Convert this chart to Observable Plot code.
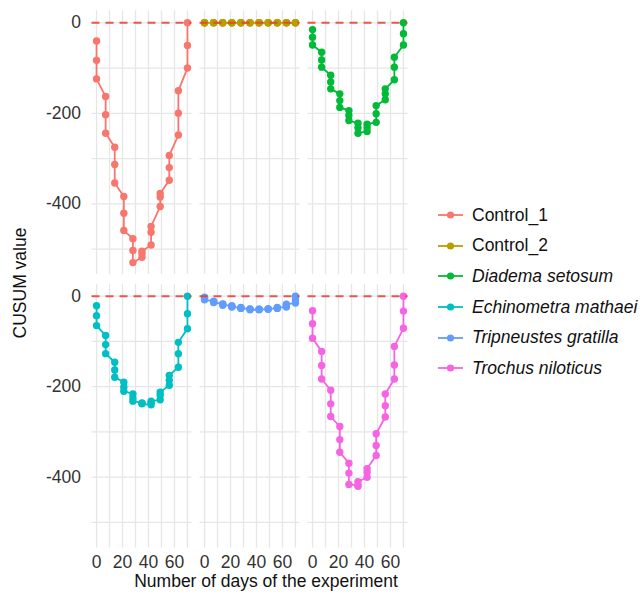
<!DOCTYPE html>
<html><head><meta charset="utf-8">
<script src="https://cdn.jsdelivr.net/npm/d3@7"></script>
<script src="https://cdn.jsdelivr.net/npm/@observablehq/plot@0.6"></script>
<style>
body{margin:0;background:#fff;font-family:"Liberation Sans",Arial,Helvetica,sans-serif;}
#wrap{position:relative;width:644px;height:595px;overflow:hidden;background:#fff;}
#chart{position:absolute;left:0;top:0;}
.ytitle{position:absolute;left:20px;top:283px;transform:translate(-50%,-50%) rotate(-90deg);font-size:17.5px;white-space:nowrap;color:#111;}
.xtitle{position:absolute;left:266px;top:581px;transform:translate(-50%,-50%);font-size:17.5px;white-space:nowrap;color:#111;}
#legend{position:absolute;left:436px;top:200px;}
.item{display:flex;align-items:center;height:30.6px;font-size:17.5px;color:#111;white-space:nowrap;}
.item svg{margin-right:7px;}
.it{font-style:italic;}
</style>
</head><body>
<div id="wrap">
  <div id="chart"></div>
  <div class="ytitle">CUSUM value</div>
  <div class="xtitle">Number of days of the experiment</div>
  <div id="legend"></div>
</div>
<script>
// ---- data ----
const seriesNames = ["Control_1","Control_2","Diadema setosum","Echinometra mathaei","Tripneustes gratilla","Trochus niloticus"];
const seriesItalic = [false,false,true,true,true,true];
const seriesColors = ["#F8766D","#B79F00","#00BA38","#00BFC4","#619CFF","#F564E3"];
const panelCols = [0,1,2,0,1,2];
const panelRows = [0,0,0,1,1,1];

const sampleDays = [0,0,0, 7,7,7, 14,14,14, 21,21,21, 28,28,28, 35,35,35, 42,42,42, 49,49,49, 56,56,56, 63,63,63, 70,70,70];

const control1 = [-40,-83,-124, -163,-203,-244, -275,-313,-354, -384,-421,-459, -477,-503,-530, -518,-511,-505, -491,-463,-450, -406,-385,-377, -348,-320,-293, -248,-200,-150, -100,-50,0];
const control2 = [0,0,0, 0,0,0, 0,0,0, 0,0,0, 0,0,0, 0,0,0, 0,0,0, 0,0,0, 0,0,0, 0,0,0, 0,0,0];
const diadema = [-15,-32,-49, -65,-82,-98, -116,-131,-146, -157,-172,-187, -194,-205,-216, -222,-232,-244, -240,-232,-224, -220,-201,-183, -170,-157,-146, -126,-98,-76, -49,-24,0];
const echinometra = [-21,-43,-65, -87,-107,-127, -146,-163,-179, -190,-201,-210, -216,-225,-232, -236,-237,-238, -240,-236,-232, -229,-219,-212, -197,-186,-175, -157,-127,-102, -72,-39,0];
const tripneustes = [-2,-5,-8, -11,-13,-14, -17,-18,-20, -21,-23,-24, -25,-26,-27, -28,-29,-30, -30,-29,-29, -29,-28,-28, -27,-26,-25, -24,-21,-18, -15,-8,0];
const trochus = [-32,-61,-93, -122,-153,-183, -208,-238,-266, -288,-317,-345, -369,-391,-416, -418,-420,-410, -400,-389,-381, -352,-330,-304, -267,-242,-216, -183,-152,-111, -71,-33,0];

const seriesValues = [control1, control2, diadema, echinometra, tripneustes, trochus];

const xTicks = [0,20,40,60];
const xGrid = [0,10,20,30,40,50,60,70];
const yTicks = [0,-200,-400];
const yGrid = [0,-100,-200,-300,-400,-500];

// ---- build table ----
const rows = [];
seriesNames.forEach((name, s) => {
  seriesValues[s].forEach((v, i) => {
    rows.push({series: name, day: sampleDays[i], value: v, col: panelCols[s], row: panelRows[s]});
  });
});
const panels = seriesNames.map((name, s) => ({series: name, col: panelCols[s], row: panelRows[s]}));

const gridStyle = {stroke: "#e6e6e6", strokeOpacity: 1, strokeWidth: 1.3};

const chart = Plot.plot({
  width: 644, height: 595,
  marginLeft: 91.5, marginRight: 236.5, marginTop: 10.3, marginBottom: 47.5,
  style: {fontFamily: "'Liberation Sans', Arial, sans-serif", fontSize: "17.5px", background: "white", color: "#333", overflow: "visible"},
  x: {domain: [-3.5, 73.5]},
  y: {domain: [-556.5, 26.5]},
  fx: {domain: [0,1,2], paddingInner: 0.074, paddingOuter: 0, axis: null, round: false, label: null},
  fy: {domain: [0,1], paddingInner: 0.035, paddingOuter: 0, axis: null, round: false, label: null},
  color: {domain: seriesNames, range: seriesColors},
  marks: [
    Plot.gridX(xGrid, gridStyle),
    Plot.gridY(yGrid, gridStyle),
    Plot.axisX(xTicks, {tickSize: 0, tickPadding: 8, label: null, tickFormat: d => String(d), fill: "#333"}),
    Plot.axisY(yTicks, {tickSize: 0, tickPadding: 11, label: null, tickFormat: d => String(d), fill: "#333"}),
    Plot.line(rows, {x: "day", y: "value", z: "series", stroke: "series", fx: "col", fy: "row", strokeWidth: 1.8}),
    Plot.dot(rows, {x: "day", y: "value", fill: "series", fx: "col", fy: "row", r: 3.7}),
    Plot.ruleY(panels, {y: d => 0, fx: "col", fy: "row", stroke: "#ec3b32", strokeDasharray: "8,6", strokeWidth: 2, strokeOpacity: 0.85})
  ]
});
document.getElementById("chart").appendChild(chart);

// ---- legend ----
const legend = document.getElementById("legend");
seriesNames.forEach((name, s) => {
  const div = document.createElement("div");
  div.className = "item";
  div.innerHTML = `<svg width="29" height="20"><line x1="2" x2="27" y1="10" y2="10" stroke="${seriesColors[s]}" stroke-width="1.8"/><circle cx="14.5" cy="10" r="3.6" fill="${seriesColors[s]}"/></svg><span class="${seriesItalic[s] ? "it" : ""}">${name}</span>`;
  legend.appendChild(div);
});
</script>
</body></html>
